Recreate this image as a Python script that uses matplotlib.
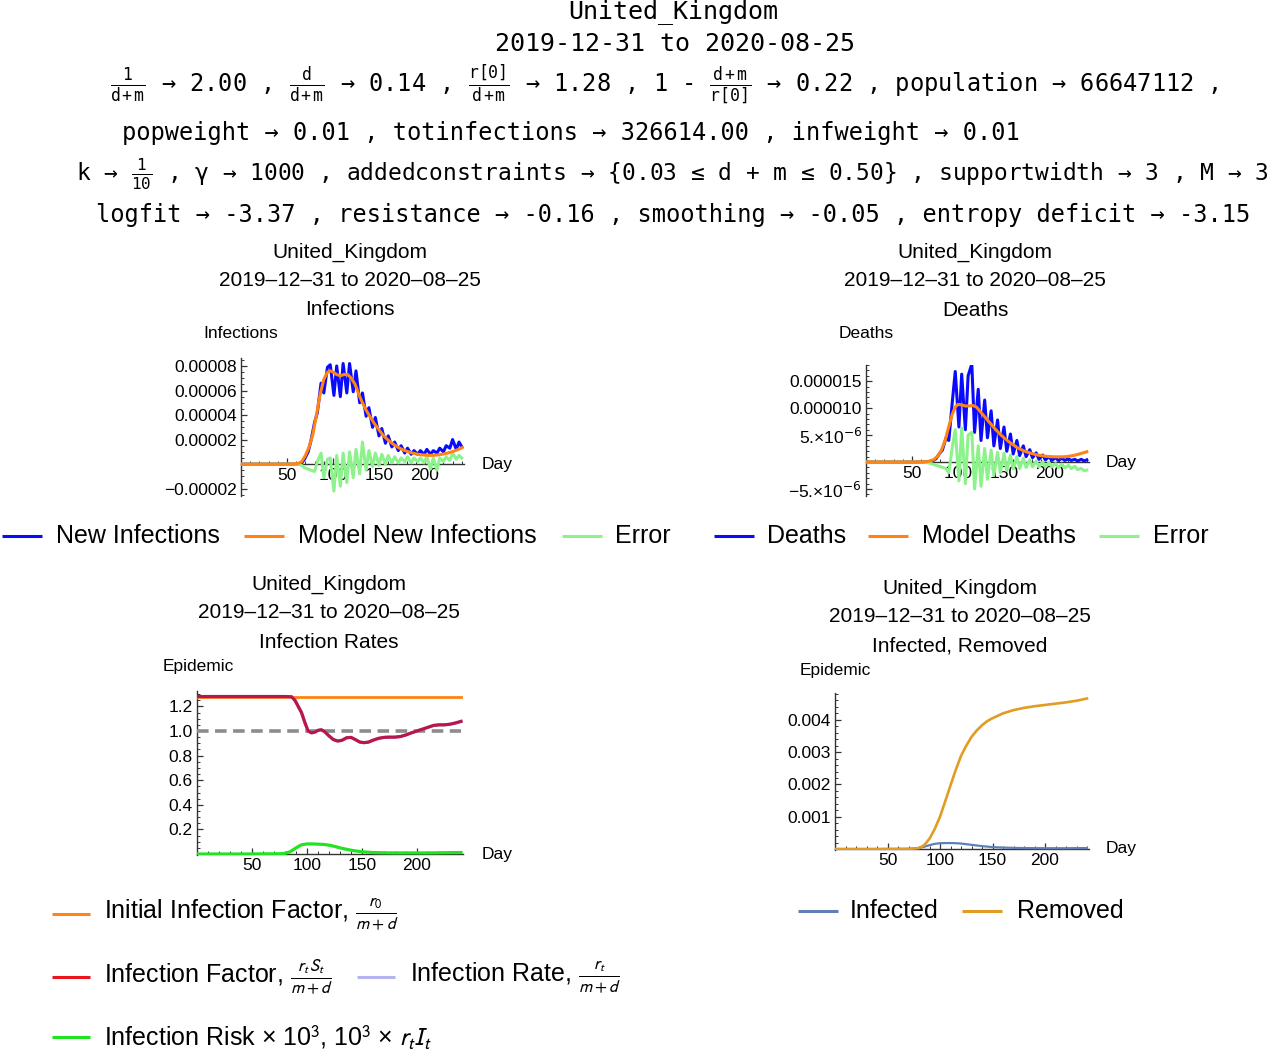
import matplotlib
matplotlib.use('Agg')
import matplotlib.pyplot as plt
import numpy as np
from matplotlib.lines import Line2D
from matplotlib.ticker import FixedLocator, MultipleLocator

# ---- data ----
header_lines = [
    "United_Kingdom",
    "2019-12-31 to 2020-08-25",
    r"$\frac{1}{d+m}$ → 2.00 , $\frac{d}{d+m}$ → 0.14 , $\frac{r[0]}{d+m}$ → 1.28 , 1 - $\frac{d+m}{r[0]}$ → 0.22 , population → 66647112 ,",
    "popweight → 0.01 , totinfections → 326614.00 , infweight → 0.01",
    r"k → $\frac{1}{10}$ , γ → 1000 , addedconstraints → {0.03 ≤ d + m ≤ 0.50} , supportwidth → 3 , M → 3",
    "logfit → -3.37 , resistance → -0.16 , smoothing → -0.05 , entropy deficit → -3.15",
]
country = "United_Kingdom"
date_range = "2019–12–31 to 2020–08–25"
panel_names = ["Infections", "Deaths", "Infection Rates", "Infected, Removed"]

# daily series, sampled twice a week (weekly reporting wiggle)
noise_days = [0, 20, 40, 55, 62, 66, 69, 73, 76, 80, 83, 87, 90, 94, 97, 101, 104, 108,
              111, 115, 118, 122, 125, 129, 132, 136, 139, 143, 146, 150, 153, 157, 160,
              164, 167, 171, 174, 178, 181, 185, 188, 192, 195, 199, 202, 206, 209, 213,
              216, 220, 223, 227, 230, 234, 237, 240]
new_infections_e5 = [0, 0, 0, 0, 0.02, 0.1, 0.4, 1.0, 1.9, 3.4, 4.2, 6.6, 5.8,
                     7.9, 8.1, 5.6, 8.0, 5.5, 8.2, 5.8, 8.2, 5.9, 7.6, 5.0, 5.8, 3.9, 4.6,
                     3.0, 3.8, 2.3, 2.9, 1.7, 2.3, 1.4, 1.8, 1.1, 1.5, 0.9, 1.3, 0.8, 1.1,
                     0.8, 1.1, 0.8, 1.2, 0.8, 1.1, 0.9, 1.3, 1.0, 1.5, 1.3, 2.0, 1.2, 1.8, 1.4]
inf_error_e5 = [0, 0, 0, 0, 0, -0.1, -0.3, -0.4, -0.5, -0.6, 0.2, 0.9, -1.1,
                0.4, 0.5, -2.2, 0.7, -1.8, 0.9, -1.5, 1.0, -1.1, 1.2, -0.8, 1.8, -0.5, 1.1,
                -0.2, 0.9, -0.1, 0.8, 0.0, 0.7, 0.1, 0.6, 0.1, 0.5, 0.2, 0.6, 0.1, 0.5,
                0.2, 0.5, 0.1, 0.6, -0.4, 0.5, -0.5, 0.5, 0.2, 0.6, 0.3, 0.9, 0.4, 0.7, 0.5]
deaths_e6 = [0, 0, 0, 0, 0, 0.05, 0.1, 0.3, 0.6, 1.6, 2.2, 4.5, 4.0,
             11.5, 16.8, 6.5, 16.3, 6.0, 16.0, 18.2, 5.5, 13.5, 4.0, 11.5, 4.5, 9.5, 3.0,
             7.8, 2.5, 6.5, 2.0, 5.2, 1.5, 4.0, 1.2, 3.0, 1.0, 2.3, 0.8, 1.7, 0.5,
             1.3, 0.4, 1.0, 0.3, 0.8, 0.3, 0.7, 0.3, 0.6, 0.3, 0.5, 0.2, 0.5, 0.2, 0.4]
death_error_e6 = [0, 0, 0, 0, -0.02, -0.1, -0.2, -0.4, -0.6, -0.8, -1.0, -1.2, -2.0,
                  3.0, 6.0, -3.5, 6.3, -4.0, 5.0, 5.5, -5.0, 3.0, -4.5, 2.5, -3.2, 2.2, -2.5,
                  1.8, -2.0, 1.6, -1.6, 1.3, -1.3, 1.0, -1.2, 0.7, -1.0, 0.4, -0.9, 0.2, -0.9,
                  0.0, -0.9, -0.1, -0.9, -0.3, -1.0, -0.4, -1.1, -0.6, -1.2, -0.8, -1.4, -1.2, -1.6, -1.5]

# smooth model curves
model_days = [0, 20, 40, 55, 62, 66, 70, 74, 78, 82, 86, 90, 94, 97, 100, 104, 108, 112,
              116, 120, 124, 128, 132, 136, 140, 145, 150, 155, 160, 165, 170, 175, 180,
              185, 190, 195, 200, 205, 210, 215, 220, 225, 230, 235, 240]
model_infections_e5 = [0, 0, 0, 0.01, 0.05, 0.2, 0.7, 1.4, 2.4, 4.0, 5.7, 6.9, 7.5,
                       7.6, 7.5, 7.3, 7.2, 7.3, 7.3, 7.0, 6.5, 5.7, 5.0, 4.4, 3.9, 3.3, 2.8,
                       2.3, 1.95, 1.65, 1.4, 1.2, 1.05, 0.93, 0.84, 0.77, 0.73, 0.71, 0.72,
                       0.76, 0.82, 0.91, 1.02, 1.16, 1.33]
model_deaths_e6 = [0, 0, 0, 0.01, 0.03, 0.08, 0.2, 0.5, 1.1, 2.2, 4.0, 6.6, 9.0,
                   10.2, 10.7, 10.6, 10.4, 10.4, 10.5, 10.2, 9.4, 8.6, 7.8, 7.0, 6.2, 5.3, 4.5,
                   3.8, 3.2, 2.6, 2.2, 1.85, 1.6, 1.35, 1.2, 1.08, 1.0, 0.97, 0.96,
                   0.98, 1.05, 1.2, 1.4, 1.65, 1.9]

# infection rates panel
rate_days = [0, 40, 80, 86, 89, 92, 95, 98, 101, 104, 107, 110, 113, 116, 120, 124, 128,
             132, 136, 140, 144, 148, 152, 156, 160, 165, 170, 175, 180, 185, 190, 195,
             200, 205, 210, 215, 220, 225, 230, 235, 240]
infection_factor = [1.28, 1.28, 1.28, 1.278, 1.25, 1.2, 1.15, 1.07, 1.0, 0.985, 0.99,
                    1.005, 1.01, 0.995, 0.96, 0.93, 0.918, 0.925, 0.945, 0.948, 0.93,
                    0.91, 0.905, 0.91, 0.925, 0.94, 0.948, 0.95, 0.95, 0.955, 0.968,
                    0.985, 1.0, 1.015, 1.03, 1.045, 1.05, 1.05, 1.055, 1.065, 1.078]
initial_days = [0, 240]
initial_factor = [1.28, 1.28]
threshold = [1.0, 1.0]
risk_days = [0, 40, 75, 80, 85, 90, 95, 100, 105, 110, 115, 120, 125, 130, 135, 140,
             145, 150, 160, 170, 180, 190, 200, 210, 220, 230, 240]
infection_risk = [0, 0, 0.002, 0.005, 0.02, 0.05, 0.075, 0.082, 0.082, 0.08, 0.078,
                  0.072, 0.062, 0.05, 0.04, 0.031, 0.024, 0.018, 0.012, 0.01, 0.009,
                  0.009, 0.009, 0.009, 0.01, 0.011, 0.012]

# infected / removed panel
sir_days = [0, 40, 70, 80, 85, 90, 95, 100, 105, 110, 115, 120, 125, 130, 135, 140,
            145, 150, 160, 170, 180, 190, 200, 210, 220, 230, 240]
removed_e3 = [0, 0, 0.005, 0.03, 0.12, 0.32, 0.62, 1.0, 1.48, 1.97, 2.45, 2.88, 3.2,
              3.47, 3.67, 3.83, 3.96, 4.05, 4.2, 4.3, 4.37, 4.42, 4.46, 4.5, 4.54, 4.59, 4.66]
infected_e3 = [0, 0, 0.005, 0.03, 0.07, 0.12, 0.16, 0.18, 0.185, 0.185, 0.18, 0.17,
               0.15, 0.13, 0.11, 0.09, 0.075, 0.06, 0.045, 0.035, 0.03, 0.027, 0.025,
               0.025, 0.025, 0.027, 0.03]

x_ticks = [50, 100, 150, 200]
x_ticklabels = ["50", "100", "150", "200"]

# ---- figure ----
W, H = 1280, 1053
plt.rcParams['font.family'] = ['Liberation Sans', 'DejaVu Sans']
plt.rcParams['mathtext.fontset'] = 'custom'
plt.rcParams['mathtext.rm'] = 'DejaVu Sans Mono'
plt.rcParams['mathtext.it'] = 'DejaVu Sans Mono'
plt.rcParams['mathtext.bf'] = 'DejaVu Sans Mono:bold'

fig = plt.figure(figsize=(W / 100, H / 100), dpi=100)


def fx(x):
    return x / W


def fy(y):
    return 1 - y / H


AXC = '#333333'
BLUE, ORANGE, LGREEN = '#0a0aff', '#ff8412', '#8cf28c'

# header block in monospace: (x, y, align, size)
header_pos = [(673, 12, 'center', 18), (675, 44, 'center', 18), (664, 84, 'center', 17),
              (122, 133, 'left', 17), (672, 174, 'center', 16.5), (673, 215, 'center', 17)]
for txt, (x, yc, ha, sz) in zip(header_lines, header_pos):
    fig.text(fx(x), fy(yc), txt, ha=ha, va='center', family='DejaVu Sans Mono', size=sz)


def panel(left, px_day, y_top, y_bot, ylim, yticks, ylabels, yminor):
    right = left + px_day * 242
    ax = fig.add_axes([fx(left), fy(y_bot), (right - left) / W, (y_bot - y_top) / H])
    ax.set_xlim(0, 242)
    ax.set_ylim(*ylim)
    ax.patch.set_visible(False)
    for s in ['top', 'right']:
        ax.spines[s].set_visible(False)
    for s in ['left', 'bottom']:
        ax.spines[s].set_position(('data', 0))
        ax.spines[s].set_color(AXC)
        ax.spines[s].set_linewidth(1.0)
    ax.xaxis.set_major_locator(FixedLocator(x_ticks))
    ax.set_xticklabels(x_ticklabels)
    ax.xaxis.set_minor_locator(MultipleLocator(10))
    ax.yaxis.set_major_locator(FixedLocator(yticks))
    ax.set_yticklabels(ylabels)
    ax.yaxis.set_minor_locator(MultipleLocator(yminor))
    ax.tick_params(which='major', direction='in', length=4.5, width=0.9, color=AXC,
                   labelsize=12.5, pad=3)
    ax.tick_params(which='minor', direction='in', length=2.5, width=0.7, color=AXC)
    for lab in ax.get_yticklabels():
        lab.set_math_fontfamily('dejavusans')
    return ax


def titles(xc, ys, name):
    for t, yc in zip([country, date_range, name], ys):
        fig.text(fx(xc), fy(yc), t, ha='center', va='center', size=15)


def legend_item(x0, x1, y, color, label, tx, lw=2.2, math=None):
    fig.add_artist(Line2D([fx(x0), fx(x1)], [fy(y), fy(y)], transform=fig.transFigure,
                          color=color, lw=lw, solid_capstyle='butt'))
    t = fig.text(fx(tx), fy(y), label, ha='left', va='center', size=18)
    if math:
        t.set_math_fontfamily(math)


# ---- panel 1: infections ----
titles(350, [252, 280, 310], panel_names[0])
ax1 = panel(241, 0.92, 358, 496, (-2.6e-5, 8.65e-5),
            [-2e-5, 2e-5, 4e-5, 6e-5, 8e-5],
            ["−0.00002", "0.00002", "0.00004", "0.00006", "0.00008"], 5e-6)
ax1.plot(noise_days, np.array(new_infections_e5) * 1e-5, color=BLUE, lw=2.2, zorder=3)
ax1.plot(noise_days, np.array(inf_error_e5) * 1e-5, color=LGREEN, lw=2.2, zorder=4)
ax1.plot(model_days, np.array(model_infections_e5) * 1e-5, color=ORANGE, lw=2.2, zorder=5)
fig.text(fx(241), fy(334), "Infections", ha='center', va='center', size=12.5)
fig.text(fx(497), fy(464), "Day", ha='center', va='center', size=12.5)

# ---- panel 2: deaths ----
titles(975, [252, 280, 311], panel_names[1])
ax2 = panel(866, 0.92, 365, 496, (-6.3e-6, 1.8e-5),
            [-5e-6, 5e-6, 1e-5, 1.5e-5],
            [r"−5.×10$^{-6}$", r"5.×10$^{-6}$", "0.000010", "0.000015"], 1e-6)
ax2.plot(noise_days, np.array(deaths_e6) * 1e-6, color=BLUE, lw=2.2, zorder=3)
ax2.plot(noise_days, np.array(death_error_e6) * 1e-6, color=LGREEN, lw=2.2, zorder=4)
ax2.plot(model_days, np.array(model_deaths_e6) * 1e-6, color=ORANGE, lw=2.2, zorder=5)
fig.text(fx(866), fy(334), "Deaths", ha='center', va='center', size=12.5)
fig.text(fx(1121), fy(462), "Day", ha='center', va='center', size=12.5)

# legend row under panels 1 and 2
legend_item(2, 42, 536, BLUE, "New Infections", tx=56)
legend_item(244, 284, 536, ORANGE, "Model New Infections", tx=298)
legend_item(562, 602, 536, LGREEN, "Error", tx=615)
legend_item(714, 754, 536, BLUE, "Deaths", tx=767)
legend_item(868, 908, 536, ORANGE, "Model Deaths", tx=922)
legend_item(1099, 1139, 536, LGREEN, "Error", tx=1153)

# ---- panel 3: infection rates ----
titles(329, [584, 613, 643], panel_names[2])
ax3 = panel(197, 1.1, 691, 855, (-0.008, 1.325),
            [0.2, 0.4, 0.6, 0.8, 1.0, 1.2],
            ["0.2", "0.4", "0.6", "0.8", "1.0", "1.2"], 0.05)
ax3.plot(initial_days, threshold, color='#8c8c8c', lw=2.6, dashes=(3.2, 1.8), zorder=3)
ax3.plot(initial_days, initial_factor, color=ORANGE, lw=2.0, zorder=4)
# infection rate is indistinguishable from the factor here (S ~ 1), hidden beneath it
ax3.plot(rate_days, infection_factor, color='#b4b4f0', lw=2.2, zorder=4)
ax3.plot(rate_days, infection_factor, color='#b8164c', lw=2.3, zorder=5)
ax3.plot(risk_days, infection_risk, color='#22e322', lw=2.3, zorder=5)
fig.text(fx(198), fy(667), "Epidemic", ha='center', va='center', size=12.5)
fig.text(fx(497), fy(854), "Day", ha='center', va='center', size=12.5)

legend_item(52, 90, 914, ORANGE, r"Initial Infection Factor, $\frac{r_0}{m+d}$",
            tx=104, math='stixsans')
legend_item(52, 90, 977, '#e8141e', r"Infection Factor, $\frac{r_t\,S_t}{m+d}$",
            tx=104, math='stixsans')
legend_item(357, 395, 977, '#b4b4f0', r"Infection Rate, $\frac{r_t}{m+d}$",
            tx=410, math='stixsans')
legend_item(52, 90, 1037, '#22e322', r"Infection Risk × 10$^3$, 10$^3$ × $r_t I_t$",
            tx=104, math='stixsans')

# ---- panel 4: infected, removed ----
titles(960, [588, 617, 646], panel_names[3])
ax4 = panel(835, 1.05, 693, 850, (-0.00003, 0.00483),
            [0.001, 0.002, 0.003, 0.004],
            ["0.001", "0.002", "0.003", "0.004"], 0.0002)
ax4.plot(sir_days, np.array(infected_e3) * 1e-3, color='#5e81b5', lw=1.6, zorder=4)
ax4.plot(sir_days, np.array(removed_e3) * 1e-3, color='#e19c24', lw=1.9, zorder=5)
fig.text(fx(835), fy(670), "Epidemic", ha='center', va='center', size=12.5)
fig.text(fx(1121), fy(848), "Day", ha='center', va='center', size=12.5)

legend_item(798, 838, 911, '#5e81b5', "Infected", tx=850)
legend_item(962, 1002, 911, '#e19c24', "Removed", tx=1017)

fig.savefig('out.png', dpi=100)
